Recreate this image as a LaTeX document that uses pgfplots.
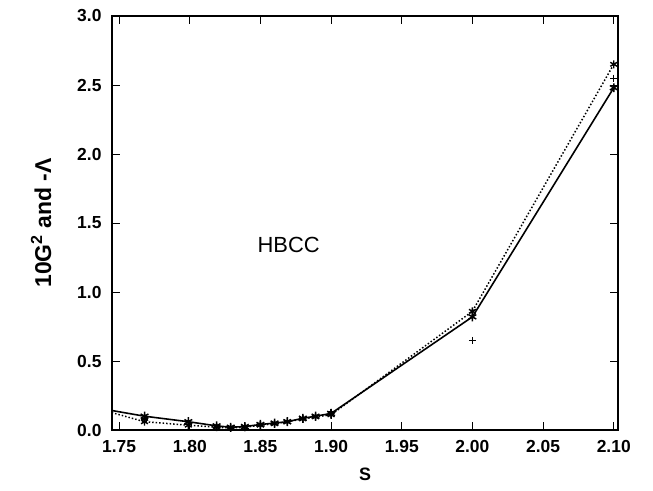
\documentclass[border=0pt]{standalone}
\usepackage{fontspec}
\setmainfont{Liberation Sans}
\usepackage{pgfplots}
\pgfplotsset{compat=1.18}
\usetikzlibrary{calc}

% 10 G^2 (solid) and -Lambda (dotted) against S for HBCC
\pgfplotstableread{
s      g
1.740  0.150
1.768  0.100
1.799  0.060
1.819  0.030
1.829  0.020
1.839  0.025
1.850  0.040
1.860  0.050
1.869  0.060
1.880  0.085
1.889  0.100
1.900  0.120
2.000  0.820
2.100  2.480
}\gtable
\pgfplotstableread{
s      l
1.740  0.140
1.768  0.060
1.799  0.035
1.819  0.020
1.829  0.015
1.839  0.020
1.850  0.035
1.860  0.045
1.869  0.060
1.880  0.080
1.889  0.095
1.900  0.110
2.000  0.860
2.100  2.650
}\ltable
\pgfplotstableread{
s      p
1.768  0.080
1.799  0.040
1.829  0.020
1.900  0.130
2.000  0.650
2.100  2.550
}\ptable

\begin{document}
\begin{tikzpicture}
\begin{axis}[
  scale only axis,
  width=506bp, height=414bp,
  xmin=1.745, xmax=2.103,
  ymin=0, ymax=3.0,
  xtick={1.75,1.80,...,2.101},
  ytick={0,0.5,...,3.01},
  tick align=inside,
  major tick length=8bp,
  axis line style={line width=1.1pt},
  tick style={line width=1pt, black},
  /pgf/number format/assume math mode=true,
  /pgf/number format/.cd, fixed, fixed zerofill, precision=2, /pgfplots/.cd,
  yticklabel style={/pgf/number format/precision=1, font=\bfseries\fontsize{17.5}{19}\selectfont},
  xticklabel style={font=\bfseries\fontsize{17.5}{19}\selectfont, yshift=-7bp},
  yticklabel style={xshift=-7bp},
  xlabel={S},
  xlabel style={font=\bfseries\fontsize{18}{20}\selectfont, yshift=-8bp},
  ylabel={10G\textsuperscript{2} and -Λ},
  ylabel style={font=\bfseries\fontsize{23}{25}\selectfont,
    at={(axis description cs:-0.14,0.5)}, anchor=center},
  clip=true,
]
\addplot[black, line width=1.6pt, mark=asterisk, mark size=4.5pt,
  mark options={line width=1.5pt, solid}] table[x=s, y=g] {\gtable};
\addplot[black, line width=1.5pt, dotted, mark=asterisk, mark size=4pt,
  mark options={line width=1.4pt, solid}] table[x=s, y=l] {\ltable};
\addplot[black, only marks, mark=+, mark size=3.5pt,
  mark options={line width=1.2pt}] table[x=s, y=p] {\ptable};
\node[font=\fontsize{22}{24}\selectfont] at (axis cs:1.870,1.34) {HBCC};
\end{axis}
\useasboundingbox ($(current axis.south west)+(-112bp,-61bp)$) rectangle ($(current axis.north east)+(35bp,16bp)$);
\end{tikzpicture}
\end{document}
